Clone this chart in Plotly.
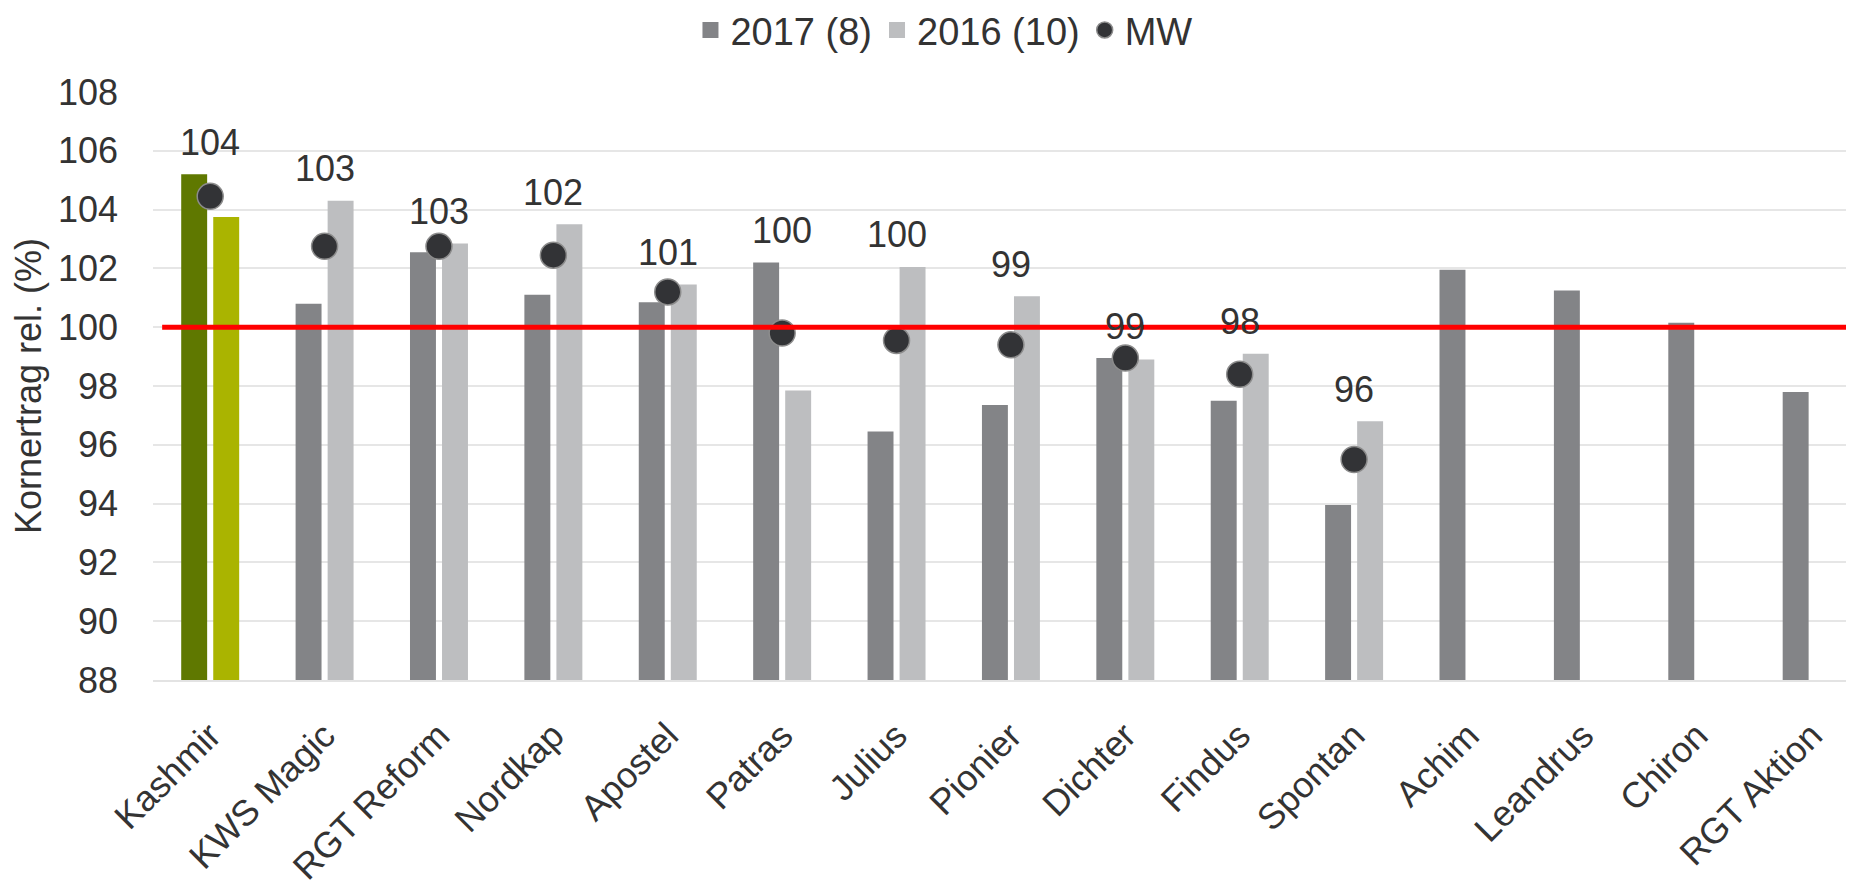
import plotly.graph_objects as go

# Sorten und Werte (Kornertrag relativ, %)
sorten = ["Kashmir", "KWS Magic", "RGT Reform", "Nordkap", "Apostel", "Patras", "Julius",
          "Pionier", "Dichter", "Findus", "Spontan", "Achim", "Leandrus", "Chiron", "RGT Aktion"]
werte_2017 = [105.2, 100.8, 102.55, 101.1, 100.85, 102.2, 96.45, 97.35, 98.95, 97.5, 93.95,
              101.95, 101.25, 100.15, 97.8]
werte_2016 = [103.75, 104.3, 102.85, 103.5, 101.45, 97.85, 102.05, 101.05, 98.9, 99.1, 96.8,
              None, None, None, None]
mw = [104.45, 102.75, 102.75, 102.45, 101.2, 99.8, 99.55, 99.4, 98.95, 98.4, 95.5,
      None, None, None, None]
mw_labels = ["104", "103", "103", "102", "101", "100", "100", "99", "99", "98", "96"]
referenz = 100

# Farben
c2017, c2016 = "#838487", "#bdbec0"
col_2017 = ["#5f7800"] + [c2017] * (len(sorten) - 1)
col_2016 = ["#aab400"] + [c2016] * (len(sorten) - 1)
txt = "#333333"
font = "Liberation Sans, Arial, sans-serif"
fs = 36

fig = go.Figure()

fig.add_trace(go.Bar(x=sorten, y=werte_2017, marker=dict(color=col_2017, line=dict(width=0)),
                     showlegend=False, hoverinfo="x+y"))
fig.add_trace(go.Bar(x=sorten, y=werte_2016, marker=dict(color=col_2016, line=dict(width=0)),
                     showlegend=False, hoverinfo="x+y"))

# Mittelwert-Punkte
fig.add_trace(go.Scatter(x=sorten, y=mw, mode="markers", name="MW",
                         marker=dict(size=26, color="#323336", line=dict(color="#8c8c8c", width=1.5)),
                         cliponaxis=False, legendrank=3))

# Legenden-Einträge für Balken
fig.add_trace(go.Scatter(x=[None], y=[None], mode="markers", name="2017 (8)",
                         marker=dict(symbol="square", size=19, color=c2017), legendrank=1))
fig.add_trace(go.Scatter(x=[None], y=[None], mode="markers", name="2016 (10)",
                         marker=dict(symbol="square", size=19, color=c2016), legendrank=2))

# Beschriftungen über den Balken
for i, lab in enumerate(mw_labels):
    top = max(v for v in (werte_2017[i], werte_2016[i]) if v is not None)
    fig.add_annotation(x=sorten[i], y=top, text=lab, showarrow=False, yanchor="middle",
                       yshift=32, font=dict(size=fs, color=txt, family=font))

# Referenzlinie 100
fig.add_shape(type="line", xref="x", yref="y", x0=-0.42, x1=14.37, y0=referenz, y1=referenz,
              line=dict(color="#ff0000", width=5), layer="above")

# the page body has an 8px margin, so the figure is made 8px smaller
fig.update_layout(
    width=1846, height=872,
    margin=dict(l=145, r=0, t=84, b=200, autoexpand=False),
    plot_bgcolor="white", paper_bgcolor="white",
    barmode="group", bargap=0.44, bargroupgap=0.19,
    font=dict(family=font, size=fs, color=txt),
    legend=dict(orientation="h", x=0.465, xanchor="center", y=1.105, yanchor="middle",
                font=dict(size=38, color=txt), itemsizing="trace", traceorder="normal"),
    xaxis=dict(range=[-0.5, 14.37], tickangle=-45, showgrid=False, showline=True, automargin=False,
               linecolor="#e3e3e3", linewidth=2, ticks="", ticklabelstandoff=18,
               tickfont=dict(size=fs, color=txt)),
    yaxis=dict(range=[88, 108], dtick=2, tick0=88, showgrid=True, gridcolor="#e6e6e6",
               gridwidth=1.5, zeroline=False, ticks="", ticklabelstandoff=34, automargin=False,
               tickfont=dict(size=fs, color=txt),
               title=dict(text="Kornertrag rel. (%)", font=dict(size=fs, color=txt), standoff=6)),
)

fig.write_html("out.html")
